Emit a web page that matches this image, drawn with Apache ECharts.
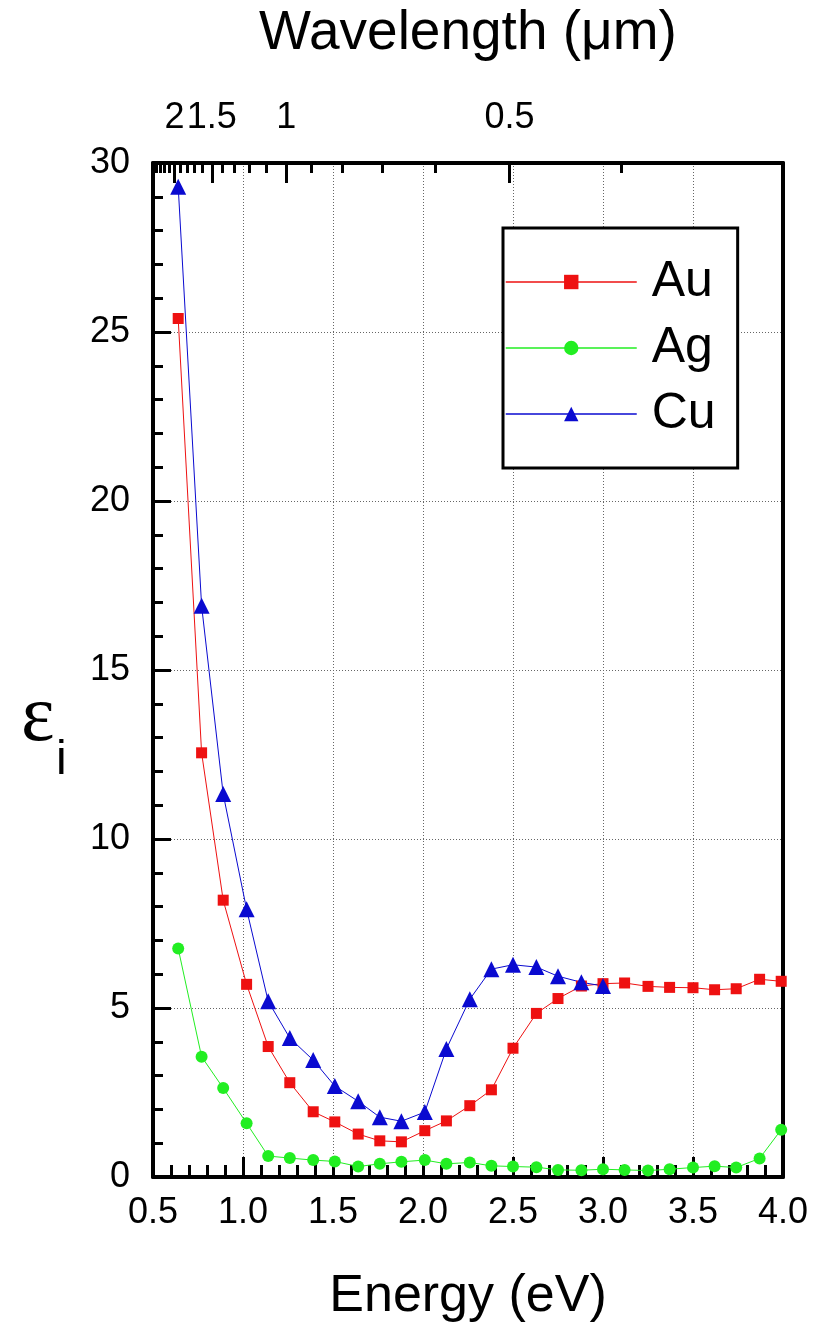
<!DOCTYPE html>
<html>
<head>
<meta charset="utf-8">
<title>epsilon_i of Au, Ag, Cu</title>
<script src="https://cdn.jsdelivr.net/npm/echarts@6/dist/echarts.min.js"></script>
<style>
  html, body { margin: 0; padding: 0; background: #fff; }
  #chart { width: 818px; height: 1328px; }
</style>
</head>
<body>
<div id="chart"></div>
<script>
// photon energy (eV)
var energy = [0.64, 0.77, 0.89, 1.02, 1.14, 1.26, 1.39, 1.51, 1.64, 1.76, 1.88, 2.01, 2.13, 2.26,
              2.38, 2.50, 2.63, 2.75, 2.88, 3.00, 3.12, 3.25, 3.37, 3.50, 3.62, 3.74, 3.87, 3.99];
// imaginary part of permittivity
var auVals = [25.4, 12.55, 8.19, 5.70, 3.86, 2.79, 1.93, 1.63, 1.27, 1.07, 1.04, 1.37, 1.66, 2.11,
              2.58, 3.81, 4.84, 5.28, 5.65, 5.72, 5.74, 5.64, 5.61, 5.60, 5.54, 5.57, 5.85, 5.79];
var agVals = [6.76, 3.56, 2.63, 1.59, 0.62, 0.56, 0.50, 0.46, 0.31, 0.39, 0.45, 0.50, 0.39, 0.43,
              0.33, 0.31, 0.29, 0.21, 0.20, 0.23, 0.21, 0.19, 0.23, 0.28, 0.32, 0.28, 0.55, 1.40];
var cuVals = [29.3, 16.9, 11.33, 7.92, 5.20, 4.11, 3.46, 2.69, 2.24, 1.77, 1.65, 1.92, 3.79, 5.26,
              6.15, 6.28, 6.21, 5.94, 5.76, 5.65];

// top axis: wavelength (um), placed at E = 1.24 / lambda
var waveMajor = [2, 1.5, 1, 0.5];
var waveMinor = [2.4, 2.3, 2.2, 2.1, 1.9, 1.8, 1.7, 1.6, 1.4, 1.3, 1.2, 1.1, 0.9, 0.8, 0.7, 0.6, 0.4];

function toPairs(vals) {
  return vals.map(function (v, i) { return [energy[i], v]; });
}
function toEnergy(l) { return 1.24 / l; }

var FONT = 'Liberation Sans, Arial, sans-serif';
var black = '#000';
var gridLine = { show: true, lineStyle: { color: '#666', width: 1, type: [1, 2] } };

var chart = echarts.init(document.getElementById('chart'));

var option = {
  backgroundColor: '#fff',
  animation: false,
  title: [
    { text: 'ε', left: 16, top: 674, textStyle: { fontFamily: 'Liberation Serif', fontSize: 80, fontWeight: 'normal', color: black } },
    { text: 'i', left: 51, top: 732, textStyle: { fontFamily: FONT, fontSize: 48, fontWeight: 'normal', color: black } }
  ],
  grid: { left: 153, right: 35, top: 163, bottom: 150 },
  legend: {
    data: ['Au', 'Ag', 'Cu'],
    orient: 'vertical',
    left: 503,
    top: 228,
    padding: [29, 22, 29, 2],
    itemWidth: 131,
    itemHeight: 18,
    itemGap: 16,
    backgroundColor: '#fff',
    borderColor: black,
    borderWidth: 3,
    borderRadius: 0,
    lineStyle: { width: 1.5 },
    textStyle: { fontFamily: FONT, fontSize: 50, color: black, padding: [0, 0, 0, 10] }
  },
  xAxis: [
    {
      type: 'value', position: 'bottom', min: 0.5, max: 4.0, interval: 0.5,
      name: 'Energy (eV)', nameLocation: 'middle', nameGap: 94,
      nameTextStyle: { fontFamily: FONT, fontSize: 52, color: black },
      axisLine: { onZero: false, lineStyle: { color: black, width: 4 } },
      axisTick: { inside: true, length: 20, lineStyle: { color: black, width: 3 } },
      minorTick: { show: true, splitNumber: 5, length: 12, lineStyle: { color: black, width: 3 } },
      axisLabel: { margin: 18, fontFamily: FONT, fontSize: 36, color: black,
                   formatter: function (v) { return v.toFixed(1); } },
      splitLine: gridLine
    },
    {
      type: 'value', position: 'top', min: 0.5, max: 4.0,
      name: 'Wavelength (μm)', nameLocation: 'middle', nameGap: 102,
      nameTextStyle: { fontFamily: FONT, fontSize: 55, color: black },
      axisLine: { onZero: false, lineStyle: { color: black, width: 4 } },
      axisTick: { inside: true, length: 20, customValues: waveMajor.map(toEnergy),
                  lineStyle: { color: black, width: 3 } },
      axisLabel: { margin: 27, fontFamily: FONT, fontSize: 36, color: black,
                   customValues: waveMajor.map(toEnergy),
                   formatter: function (v) { return String(Math.round(1.24 / v * 10) / 10); } },
      splitLine: { show: false }
    },
    {
      // minor wavelength ticks only (onZero off, or it drops to the bottom)
      type: 'value', position: 'top', min: 0.5, max: 4.0,
      axisLine: { show: false, onZero: false },
      axisTick: { inside: true, length: 10, customValues: waveMinor.map(toEnergy),
                  lineStyle: { color: black, width: 3 } },
      axisLabel: { show: false },
      splitLine: { show: false }
    }
  ],
  yAxis: [
    {
      type: 'value', position: 'left', min: 0, max: 30, interval: 5,
      axisLine: { show: true, onZero: false, lineStyle: { color: black, width: 4 } },
      axisTick: { show: true, inside: true, length: 18, lineStyle: { color: black, width: 3 } },
      minorTick: { show: true, splitNumber: 5, length: 10, lineStyle: { color: black, width: 3 } },
      axisLabel: { margin: 23, fontFamily: FONT, fontSize: 36, color: black },
      splitLine: gridLine
    },
    {
      type: 'value', position: 'right', min: 0, max: 30,
      axisLine: { show: true, onZero: false, lineStyle: { color: black, width: 4 } },
      axisTick: { show: false },
      axisLabel: { show: false },
      splitLine: { show: false }
    }
  ],
  series: [
    {
      name: 'Au', type: 'line', data: toPairs(auVals),
      symbol: 'rect', symbolSize: 11,
      itemStyle: { color: '#ee1111' },
      lineStyle: { color: '#ee1111', width: 1 }
    },
    {
      name: 'Ag', type: 'line', data: toPairs(agVals),
      symbol: 'circle', symbolSize: 12,
      itemStyle: { color: '#22ee22' },
      lineStyle: { color: '#22ee22', width: 1 }
    },
    {
      name: 'Cu', type: 'line', data: toPairs(cuVals),
      symbol: 'triangle', symbolSize: 16,
      itemStyle: { color: '#0a0ad0' },
      lineStyle: { color: '#0a0ad0', width: 1 }
    }
  ]
};

chart.setOption(option);
</script>
</body>
</html>
